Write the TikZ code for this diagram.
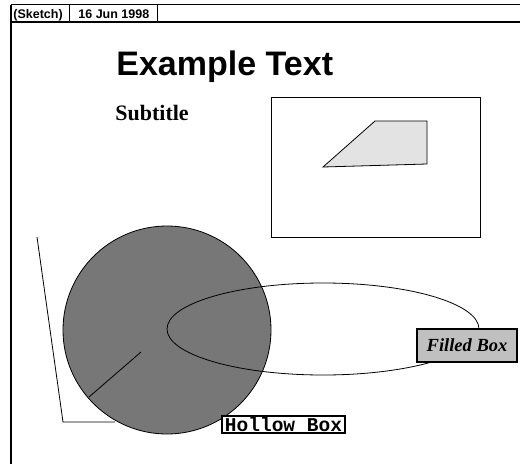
\documentclass[tikz,border=0pt]{standalone}
\usepackage{fontspec}
\setmainfont{Liberation Serif}
\setsansfont{Liberation Sans}
\setmonofont{Liberation Mono}
\usepackage{tikz}
\usetikzlibrary{calc}
\definecolor{diskgray}{HTML}{777777}
\definecolor{boxgray}{HTML}{C0C0C0}
\definecolor{polygray}{HTML}{E3E3E3}

\begin{document}
\begin{tikzpicture}[x=1pt, y=-1pt, line width=0.8pt]
    \useasboundingbox (0,0) rectangle (520,464);
    % Header bar
    \draw [line width=1.6pt] (11,4.5) -- (520,4.5);
    \draw [line width=1.6pt] (11,22) -- (520,22);
    \draw [line width=1.2pt] (11,4.5) -- (11,464);
    \foreach \x in {69, 157}
        \draw (\x,4.5) -- (\x,22);
    \node [anchor=base west, inner sep=0pt, font=\sffamily\bfseries\fontsize{12.5}{14}\selectfont] (tag) at (13,18.5) {(Sketch)};
    \node [anchor=base west, inner sep=0pt, font=\sffamily\bfseries\fontsize{12.5}{14}\selectfont] (date) at (78,18.5) {16 Jun 1998};
    % Titles
    \node [anchor=base west, inner sep=0pt, font=\sffamily\bfseries\fontsize{34}{38}\selectfont] (title) at (116,75) {Example Text};
    \node [anchor=base west, inner sep=0pt, font=\bfseries\fontsize{22}{24}\selectfont] (subtitle) at (115,120) {Subtitle};
    % Frame with polygon
    \draw [line width=0.7pt] (271,97) rectangle (480,237);
    \draw [fill=polygray] (323,167) -- (375,121) -- (427,121) -- (427,164) -- cycle;
    % Disk and radius
    \draw [fill=diskgray] (167,330) circle [radius=104];
    \draw (141,352) -- (89,397);
    % Ellipse
    \draw (323,329) ellipse [x radius=156, y radius=46];
    % Bent line
    \draw (37,237) -- (63,422) -- (115,422);
    % Boxes
    \node [draw, fill=boxgray, line width=1.8pt, minimum width=100, minimum height=33, inner sep=0pt,
           font=\bfseries\itshape\fontsize{18.5}{20}\selectfont] (filled) at (467,345.5) {Filled Box};
    \node [draw, fill=white, line width=1.5pt, minimum width=123, minimum height=17, inner sep=0pt,
           font=\ttfamily\bfseries\fontsize{19.5}{20}\selectfont] (hollow) at (283.5,424.5) {Hollow Box};
\end{tikzpicture}
\end{document}
